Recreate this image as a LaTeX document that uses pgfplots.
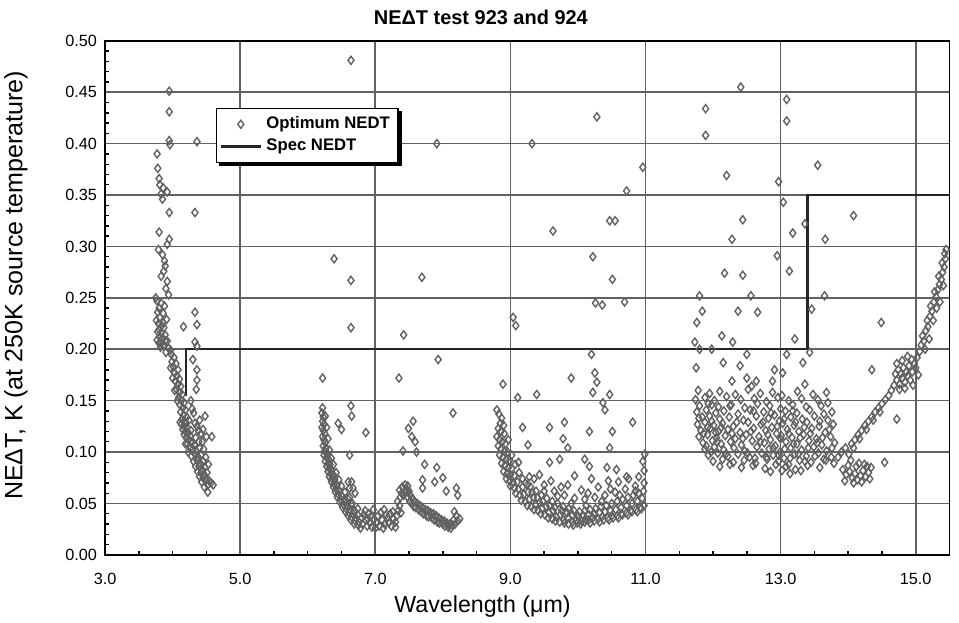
\documentclass[border=0pt]{standalone}
\usepackage{fontspec}
\setmainfont{Liberation Sans}
\usepackage{pgfplots}
\pgfplotsset{compat=1.18}
\usepackage{pgfplotstable}

% cluster 1: 3.7 - 4.6 um
\pgfplotstableread[row sep=\\]{
x y\\
3.95 0.451\\ 3.95 0.431\\ 3.95 0.403\\ 3.96 0.399\\ 4.36 0.402\\ 3.77 0.390\\ 3.78 0.376\\ 3.80 0.366\\
3.81 0.360\\ 3.86 0.357\\ 3.83 0.351\\ 3.85 0.346\\ 3.92 0.353\\ 3.95 0.333\\ 4.33 0.333\\ 3.80 0.314\\
3.95 0.307\\ 3.92 0.302\\ 3.79 0.297\\ 3.85 0.292\\ 3.88 0.286\\ 3.89 0.281\\ 3.87 0.276\\ 3.83 0.271\\
3.92 0.266\\ 3.90 0.259\\ 3.94 0.253\\ 3.75 0.250\\ 3.77 0.247\\ 3.83 0.245\\ 3.88 0.242\\ 3.80 0.240\\
3.78 0.236\\ 3.86 0.235\\ 3.81 0.231\\ 3.91 0.229\\ 3.76 0.228\\ 3.79 0.225\\ 3.84 0.223\\ 3.87 0.221\\
3.80 0.219\\ 3.78 0.217\\ 3.83 0.216\\ 3.89 0.214\\ 3.81 0.212\\ 3.85 0.211\\ 3.77 0.209\\ 3.92 0.208\\
3.80 0.206\\ 3.87 0.204\\ 3.82 0.202\\ 3.94 0.201\\ 3.90 0.197\\ 3.97 0.199\\ 4.33 0.236\\ 4.36 0.224\\
4.16 0.222\\ 4.33 0.207\\ 4.36 0.203\\ 4.30 0.190\\ 4.36 0.180\\ 4.35 0.161\\ 4.36 0.170\\
3.98 0.195\\ 4.02 0.192\\ 3.99 0.188\\ 4.05 0.186\\ 4.01 0.183\\ 4.08 0.180\\ 4.03 0.177\\ 4.06 0.174\\
4.10 0.171\\ 4.04 0.169\\ 4.08 0.166\\ 4.12 0.164\\ 4.06 0.161\\ 4.10 0.158\\ 4.14 0.156\\ 4.09 0.153\\
4.13 0.150\\ 4.17 0.148\\ 4.11 0.146\\ 4.15 0.143\\ 4.19 0.141\\ 4.27 0.150\\ 4.29 0.142\\ 4.31 0.138\\
4.12 0.139\\ 4.16 0.136\\ 4.21 0.134\\ 4.14 0.132\\ 4.18 0.130\\ 4.24 0.131\\ 4.13 0.127\\ 4.17 0.125\\
4.21 0.124\\ 4.15 0.122\\ 4.19 0.120\\ 4.23 0.119\\ 4.17 0.117\\ 4.26 0.116\\ 4.20 0.114\\ 4.24 0.112\\
4.33 0.128\\ 4.36 0.125\\ 4.40 0.131\\ 4.38 0.121\\ 4.42 0.118\\ 4.45 0.122\\ 4.48 0.135\\ 4.50 0.115\\
4.44 0.110\\ 4.28 0.109\\ 4.32 0.107\\ 4.30 0.103\\ 4.35 0.101\\ 4.40 0.104\\ 4.33 0.098\\ 4.38 0.095\\
4.42 0.097\\ 4.36 0.092\\ 4.41 0.089\\ 4.45 0.091\\ 4.39 0.086\\ 4.44 0.083\\ 4.48 0.085\\ 4.42 0.080\\
4.47 0.078\\ 4.51 0.080\\ 4.45 0.075\\ 4.50 0.073\\ 4.54 0.072\\ 4.52 0.068\\ 4.57 0.070\\ 4.58 0.115\\
4.52 0.061\\ 4.60 0.068\\ 4.22 0.108\\ 4.26 0.104\\
}\clA

% cluster 2: 6.2 - 8.3 um
\pgfplotstableread[row sep=\\]{
x y\\
6.22 0.143\\ 6.21 0.138\\ 6.23 0.134\\ 6.22 0.130\\ 6.24 0.127\\ 6.21 0.124\\ 6.23 0.121\\ 6.25 0.118\\
6.22 0.115\\ 6.24 0.112\\ 6.26 0.109\\ 6.23 0.106\\ 6.27 0.104\\ 6.25 0.101\\ 6.29 0.099\\ 6.24 0.097\\
6.28 0.095\\ 6.31 0.093\\ 6.26 0.091\\ 6.30 0.089\\ 6.33 0.088\\ 6.28 0.086\\ 6.32 0.084\\ 6.35 0.083\\
6.30 0.081\\ 6.34 0.079\\ 6.38 0.078\\ 6.32 0.076\\ 6.36 0.074\\ 6.40 0.073\\ 6.35 0.071\\ 6.39 0.069\\
6.43 0.068\\ 6.38 0.066\\ 6.42 0.064\\ 6.46 0.063\\ 6.41 0.061\\ 6.45 0.059\\ 6.50 0.058\\ 6.44 0.056\\
6.49 0.054\\ 6.54 0.053\\ 6.48 0.051\\ 6.53 0.049\\ 6.58 0.048\\ 6.52 0.046\\ 6.57 0.045\\ 6.62 0.044\\
6.56 0.042\\ 6.61 0.041\\ 6.67 0.040\\ 6.60 0.038\\ 6.65 0.037\\ 6.71 0.036\\ 6.64 0.034\\ 6.70 0.033\\
6.76 0.032\\ 6.69 0.030\\ 6.75 0.029\\ 6.81 0.030\\ 6.80 0.036\\ 6.86 0.034\\ 6.92 0.031\\ 6.88 0.028\\
6.95 0.027\\ 6.98 0.035\\ 7.02 0.031\\ 7.06 0.028\\ 7.04 0.038\\ 7.10 0.034\\ 7.14 0.030\\ 7.12 0.026\\
7.18 0.036\\ 7.20 0.031\\ 7.24 0.028\\ 7.27 0.035\\ 7.30 0.032\\ 7.22 0.040\\ 6.90 0.040\\ 6.85 0.043\\
6.74 0.045\\ 6.66 0.050\\ 6.62 0.056\\ 6.70 0.060\\ 6.62 0.065\\ 6.60 0.071\\
7.32 0.038\\ 7.34 0.043\\ 7.36 0.048\\ 7.33 0.052\\ 7.37 0.056\\ 7.39 0.060\\ 7.36 0.063\\ 7.40 0.066\\
7.44 0.068\\ 7.48 0.067\\ 7.46 0.063\\ 7.50 0.062\\ 7.42 0.058\\ 7.52 0.058\\ 7.55 0.055\\ 7.51 0.052\\
7.58 0.052\\ 7.62 0.050\\ 7.57 0.047\\ 7.66 0.048\\ 7.70 0.046\\ 7.64 0.044\\ 7.74 0.044\\ 7.78 0.043\\
7.71 0.040\\ 7.82 0.041\\ 7.86 0.040\\ 7.79 0.037\\ 7.90 0.038\\ 7.94 0.036\\ 7.87 0.034\\ 7.98 0.034\\
8.02 0.033\\ 7.95 0.031\\ 8.06 0.031\\ 8.10 0.030\\ 8.03 0.028\\ 8.14 0.029\\ 8.18 0.030\\ 8.12 0.026\\
8.22 0.033\\ 8.25 0.035\\ 8.20 0.038\\ 8.17 0.042\\
6.64 0.481\\ 6.39 0.288\\ 6.64 0.267\\ 6.64 0.221\\ 6.22 0.172\\ 6.64 0.145\\ 6.65 0.135\\ 6.45 0.128\\
6.50 0.122\\ 6.86 0.119\\ 6.62 0.097\\ 6.65 0.071\\ 6.67 0.065\\ 7.69 0.270\\ 7.42 0.214\\ 7.35 0.172\\
7.91 0.400\\ 7.93 0.190\\ 7.56 0.130\\ 7.49 0.123\\ 7.54 0.115\\ 7.59 0.110\\ 7.41 0.101\\ 7.61 0.100\\
7.73 0.088\\ 7.91 0.085\\ 8.00 0.075\\ 7.88 0.071\\ 7.70 0.073\\ 7.70 0.065\\ 8.20 0.065\\ 8.15 0.138\\
8.22 0.058\\ 8.05 0.062\\
}\clB

% cluster 3: 8.8 - 11 um
\pgfplotstableread[row sep=\\]{
x y\\
8.80 0.141\\ 8.83 0.137\\ 8.87 0.133\\ 8.85 0.128\\ 8.90 0.126\\ 8.82 0.123\\ 8.86 0.120\\ 8.91 0.118\\
8.80 0.115\\ 8.84 0.112\\ 8.88 0.110\\ 8.93 0.108\\ 8.82 0.106\\ 8.86 0.103\\ 8.91 0.101\\ 8.96 0.100\\
8.84 0.097\\ 8.89 0.095\\ 8.94 0.093\\ 8.99 0.092\\ 8.87 0.089\\ 8.92 0.087\\ 8.97 0.085\\ 9.02 0.084\\
8.90 0.081\\ 8.95 0.079\\ 9.00 0.078\\ 9.06 0.077\\ 8.94 0.074\\ 8.99 0.072\\ 9.04 0.070\\ 9.10 0.071\\
9.00 0.067\\ 9.06 0.065\\ 9.12 0.064\\ 9.18 0.066\\ 9.08 0.060\\ 9.14 0.058\\ 9.20 0.059\\ 9.26 0.061\\
9.16 0.053\\ 9.22 0.052\\ 9.28 0.054\\ 9.34 0.056\\ 9.25 0.048\\ 9.31 0.047\\ 9.37 0.049\\ 9.43 0.051\\
9.35 0.044\\ 9.41 0.043\\ 9.47 0.045\\ 9.53 0.047\\ 9.45 0.040\\ 9.51 0.039\\ 9.57 0.041\\ 9.63 0.043\\
9.56 0.036\\ 9.62 0.035\\ 9.68 0.037\\ 9.74 0.039\\ 9.67 0.033\\ 9.73 0.032\\ 9.79 0.034\\ 9.85 0.036\\
9.80 0.031\\ 9.86 0.030\\ 9.92 0.032\\ 9.98 0.034\\ 9.93 0.029\\ 9.99 0.031\\ 10.05 0.033\\ 10.11 0.035\\
10.04 0.030\\ 10.10 0.032\\ 10.16 0.034\\ 10.22 0.036\\ 10.18 0.031\\ 10.24 0.033\\ 10.30 0.035\\ 10.36 0.037\\
10.32 0.032\\ 10.38 0.034\\ 10.44 0.036\\ 10.50 0.038\\ 10.46 0.034\\ 10.52 0.036\\ 10.58 0.038\\ 10.64 0.040\\
10.60 0.036\\ 10.66 0.039\\ 10.72 0.041\\ 10.78 0.043\\ 10.74 0.039\\ 10.80 0.042\\ 10.86 0.044\\ 10.92 0.046\\
10.88 0.042\\ 10.94 0.045\\ 10.98 0.048\\
9.22 0.070\\ 9.30 0.066\\ 9.38 0.062\\ 9.46 0.058\\ 9.54 0.055\\ 9.62 0.052\\ 9.70 0.050\\ 9.78 0.047\\
9.86 0.045\\ 9.94 0.043\\ 10.02 0.042\\ 10.10 0.043\\ 10.18 0.044\\ 10.26 0.045\\ 10.34 0.047\\ 10.42 0.048\\
10.50 0.050\\ 10.58 0.052\\ 10.66 0.054\\ 10.74 0.056\\ 10.82 0.058\\ 10.90 0.060\\ 10.97 0.062\\
9.35 0.074\\ 9.50 0.068\\ 9.65 0.062\\ 9.80 0.058\\ 9.95 0.055\\ 10.10 0.054\\ 10.25 0.056\\ 10.40 0.058\\
10.55 0.061\\ 10.70 0.064\\ 10.85 0.067\\ 10.98 0.070\\ 9.60 0.072\\ 9.85 0.068\\ 10.05 0.063\\ 10.30 0.066\\
10.60 0.071\\ 10.90 0.076\\ 10.98 0.082\\ 10.20 0.074\\ 9.95 0.077\\ 10.45 0.072\\ 10.75 0.074\\
8.89 0.166\\ 9.11 0.153\\ 9.39 0.156\\ 10.22 0.158\\ 10.28 0.168\\ 10.47 0.156\\ 10.37 0.148\\ 10.40 0.141\\
9.18 0.124\\ 9.58 0.124\\ 9.80 0.129\\ 10.17 0.120\\ 10.51 0.120\\ 10.81 0.129\\ 9.78 0.113\\ 9.85 0.104\\
9.26 0.107\\ 10.47 0.104\\ 10.10 0.093\\ 10.17 0.086\\ 9.58 0.090\\ 9.73 0.093\\ 10.43 0.085\\ 10.57 0.083\\
10.96 0.091\\ 10.99 0.098\\ 9.43 0.078\\ 10.72 0.076\\ 9.04 0.231\\ 9.08 0.223\\ 9.32 0.400\\ 9.63 0.315\\
9.90 0.172\\ 10.20 0.195\\ 10.25 0.177\\ 10.22 0.290\\ 10.26 0.245\\ 10.36 0.243\\ 10.69 0.246\\ 10.51 0.268\\
10.47 0.325\\ 10.55 0.325\\ 10.72 0.354\\ 10.96 0.377\\ 10.28 0.426\\
}\clC

% cluster 4: 11.7 - 15.5 um
\pgfplotstableread[row sep=\\]{
x y\\
11.78 0.160\\ 11.95 0.157\\ 12.10 0.159\\ 12.33 0.156\\ 12.52 0.161\\ 12.70 0.157\\ 12.88 0.158\\ 13.02 0.155\\ 13.25 0.159\\ 13.48 0.156\\
11.74 0.151\\ 11.88 0.153\\ 12.02 0.150\\ 12.20 0.154\\ 12.41 0.151\\ 12.61 0.152\\ 12.79 0.149\\ 12.96 0.153\\ 13.12 0.150\\ 13.31 0.152\\ 13.55 0.151\\ 13.70 0.148\\
11.80 0.145\\ 11.93 0.147\\ 12.08 0.144\\ 12.27 0.146\\ 12.47 0.143\\ 12.66 0.147\\ 12.84 0.145\\ 13.00 0.142\\ 13.18 0.146\\ 13.38 0.144\\ 13.60 0.145\\
11.76 0.139\\ 11.90 0.141\\ 12.04 0.138\\ 12.16 0.140\\ 12.37 0.137\\ 12.55 0.141\\ 12.75 0.139\\ 12.91 0.136\\ 13.07 0.140\\ 13.24 0.138\\ 13.43 0.141\\ 13.64 0.137\\ 13.76 0.139\\
11.79 0.133\\ 11.95 0.135\\ 12.10 0.132\\ 12.24 0.134\\ 12.45 0.131\\ 12.64 0.135\\ 12.82 0.133\\ 12.98 0.130\\ 13.15 0.134\\ 13.32 0.132\\ 13.50 0.135\\ 13.70 0.131\\
11.77 0.127\\ 11.88 0.129\\ 12.01 0.126\\ 12.14 0.128\\ 12.30 0.125\\ 12.52 0.129\\ 12.71 0.127\\ 12.87 0.124\\ 13.03 0.128\\ 13.20 0.126\\ 13.39 0.129\\ 13.57 0.125\\ 13.78 0.127\\
11.82 0.121\\ 11.96 0.123\\ 12.08 0.120\\ 12.22 0.122\\ 12.40 0.119\\ 12.60 0.123\\ 12.78 0.121\\ 12.94 0.118\\ 13.10 0.122\\ 13.27 0.120\\ 13.46 0.123\\ 13.66 0.119\\
11.79 0.115\\ 11.92 0.117\\ 12.05 0.114\\ 12.18 0.116\\ 12.33 0.113\\ 12.49 0.117\\ 12.68 0.115\\ 12.85 0.112\\ 13.01 0.116\\ 13.17 0.114\\ 13.34 0.117\\ 13.53 0.113\\ 13.74 0.115\\
11.85 0.109\\ 11.99 0.111\\ 12.12 0.108\\ 12.26 0.110\\ 12.42 0.107\\ 12.58 0.111\\ 12.76 0.109\\ 12.92 0.106\\ 13.08 0.110\\ 13.24 0.108\\ 13.42 0.111\\ 13.61 0.107\\ 13.80 0.109\\
11.88 0.103\\ 12.02 0.105\\ 12.16 0.102\\ 12.31 0.104\\ 12.47 0.101\\ 12.65 0.105\\ 12.83 0.103\\ 12.99 0.100\\ 13.15 0.104\\ 13.31 0.102\\ 13.49 0.105\\ 13.68 0.101\\
11.93 0.097\\ 12.07 0.099\\ 12.22 0.096\\ 12.37 0.098\\ 12.54 0.095\\ 12.72 0.099\\ 12.89 0.097\\ 13.05 0.094\\ 13.21 0.098\\ 13.38 0.096\\ 13.56 0.099\\ 13.75 0.095\\
12.00 0.091\\ 12.14 0.093\\ 12.30 0.090\\ 12.46 0.092\\ 12.63 0.089\\ 12.80 0.093\\ 12.97 0.091\\ 13.12 0.088\\ 13.28 0.092\\ 13.45 0.090\\ 13.64 0.093\\ 13.79 0.089\\
12.10 0.086\\ 12.25 0.088\\ 12.42 0.085\\ 12.59 0.087\\ 12.77 0.084\\ 12.93 0.088\\ 13.08 0.086\\ 13.22 0.083\\ 13.40 0.087\\ 13.58 0.085\\
12.85 0.081\\ 13.02 0.082\\ 13.14 0.079\\ 13.30 0.082\\
12.41 0.455\\ 13.09 0.443\\ 13.09 0.422\\ 11.89 0.434\\ 11.89 0.408\\ 13.55 0.379\\ 12.20 0.369\\ 12.97 0.363\\
13.04 0.343\\ 14.08 0.330\\ 12.44 0.326\\ 13.36 0.322\\ 13.18 0.313\\ 13.66 0.307\\ 12.28 0.307\\ 12.95 0.291\\
13.13 0.276\\ 12.17 0.274\\ 12.44 0.272\\ 11.80 0.252\\ 12.56 0.252\\ 13.65 0.252\\ 11.84 0.237\\ 12.37 0.237\\
12.66 0.236\\ 11.76 0.226\\ 13.46 0.239\\ 14.49 0.226\\ 11.73 0.207\\ 12.13 0.213\\ 12.29 0.207\\ 13.21 0.210\\
11.80 0.200\\ 11.98 0.200\\ 12.50 0.195\\ 13.09 0.195\\ 13.43 0.197\\ 13.33 0.187\\ 12.15 0.187\\ 12.40 0.184\\
11.75 0.182\\ 14.35 0.180\\ 12.91 0.180\\ 13.03 0.177\\ 12.50 0.172\\ 12.64 0.169\\ 12.28 0.169\\ 12.88 0.169\\
13.36 0.166\\ 12.57 0.164\\ 13.68 0.158\\
13.92 0.083\\ 13.97 0.078\\ 14.02 0.081\\ 14.06 0.075\\ 14.10 0.079\\ 14.14 0.073\\ 14.18 0.077\\ 14.22 0.082\\
14.26 0.076\\ 14.30 0.080\\ 14.00 0.087\\ 14.12 0.086\\ 14.24 0.088\\ 14.34 0.085\\ 13.95 0.072\\ 14.08 0.070\\
13.85 0.095\\ 13.90 0.100\\ 13.96 0.104\\ 14.01 0.098\\ 14.05 0.108\\ 14.10 0.112\\ 14.08 0.104\\ 14.15 0.117\\
14.20 0.121\\ 14.17 0.113\\ 14.25 0.126\\ 14.30 0.130\\ 14.27 0.122\\ 14.35 0.134\\ 14.40 0.139\\ 14.37 0.131\\
14.45 0.143\\ 14.50 0.147\\ 14.47 0.139\\ 14.55 0.151\\ 14.60 0.155\\ 14.64 0.160\\ 14.72 0.132\\ 14.54 0.090\\
14.68 0.165\\ 14.72 0.170\\ 14.76 0.166\\ 14.80 0.172\\ 14.70 0.176\\ 14.74 0.180\\ 14.78 0.176\\ 14.84 0.168\\
14.88 0.174\\ 14.82 0.182\\ 14.86 0.178\\ 14.92 0.170\\ 14.90 0.184\\ 14.95 0.178\\ 14.98 0.186\\ 14.94 0.190\\
15.00 0.182\\ 15.02 0.192\\ 14.72 0.186\\ 14.80 0.189\\ 14.88 0.193\\ 14.76 0.161\\ 14.84 0.162\\ 14.96 0.165\\
15.04 0.175\\ 15.06 0.198\\ 15.08 0.204\\ 15.12 0.208\\ 15.10 0.213\\ 15.15 0.218\\ 15.18 0.222\\ 15.17 0.228\\
15.21 0.232\\ 15.24 0.237\\ 15.22 0.242\\ 15.27 0.246\\ 15.30 0.251\\ 15.28 0.256\\ 15.33 0.258\\ 15.35 0.263\\
15.38 0.268\\ 15.34 0.271\\ 15.40 0.275\\ 15.42 0.280\\ 15.39 0.284\\ 15.44 0.288\\ 15.43 0.293\\ 15.45 0.297\\
15.41 0.262\\ 15.36 0.246\\ 15.31 0.240\\ 15.26 0.228\\ 15.14 0.200\\ 15.20 0.210\\
}\clD

% extra points in the dense parts of all four bands
\pgfplotstableread[row sep=\\]{
x y\\
4.07 0.150\\ 4.11 0.129\\ 4.19 0.108\\ 4.23 0.100\\ 4.28 0.096\\ 4.31 0.091\\ 4.34 0.086\\ 4.37 0.081\\
4.40 0.076\\ 4.43 0.071\\ 4.47 0.066\\ 4.20 0.128\\ 4.27 0.121\\ 4.34 0.114\\ 4.39 0.110\\ 4.46 0.103\\
4.49 0.095\\ 4.53 0.088\\ 4.03 0.160\\ 4.00 0.172\\ 3.97 0.182\\ 3.86 0.226\\ 3.83 0.206\\ 3.89 0.208\\
6.26 0.135\\ 6.28 0.124\\ 6.30 0.113\\ 6.32 0.102\\ 6.35 0.094\\ 6.38 0.088\\ 6.42 0.080\\ 6.46 0.073\\
6.50 0.067\\ 6.55 0.061\\ 6.59 0.055\\ 6.64 0.049\\ 6.69 0.043\\ 6.74 0.039\\ 6.78 0.026\\ 6.83 0.039\\
6.89 0.035\\ 6.94 0.038\\ 7.00 0.026\\ 7.08 0.041\\ 7.16 0.039\\ 7.26 0.042\\ 7.30 0.027\\ 6.97 0.044\\
7.13 0.044\\ 7.44 0.061\\ 7.48 0.056\\ 7.54 0.050\\ 7.60 0.046\\ 7.68 0.042\\ 7.76 0.038\\ 7.84 0.036\\
7.92 0.032\\ 8.00 0.030\\ 8.08 0.027\\ 8.16 0.034\\ 7.38 0.041\\
8.97 0.112\\ 9.02 0.097\\ 9.07 0.088\\ 9.13 0.080\\ 9.18 0.074\\ 9.25 0.068\\ 9.32 0.061\\ 9.40 0.056\\
9.48 0.052\\ 9.58 0.048\\ 9.66 0.046\\ 9.76 0.043\\ 9.84 0.041\\ 9.92 0.039\\ 10.00 0.038\\ 10.08 0.038\\
10.16 0.039\\ 10.24 0.040\\ 10.32 0.041\\ 10.40 0.042\\ 10.48 0.043\\ 10.56 0.044\\ 10.64 0.046\\ 10.72 0.048\\
10.80 0.050\\ 10.88 0.052\\ 10.95 0.055\\ 9.70 0.057\\ 9.90 0.050\\ 10.12 0.048\\ 10.35 0.052\\ 10.62 0.058\\
10.85 0.062\\ 10.48 0.064\\ 10.15 0.060\\ 9.75 0.066\\ 9.50 0.062\\ 9.28 0.076\\ 9.12 0.090\\
11.84 0.134\\ 11.86 0.118\\ 11.92 0.124\\ 11.98 0.130\\ 12.04 0.119\\ 11.90 0.106\\ 11.97 0.100\\ 12.06 0.110\\
12.12 0.124\\ 12.19 0.098\\ 12.28 0.118\\ 12.35 0.129\\ 12.44 0.113\\ 12.51 0.099\\ 12.56 0.120\\ 12.62 0.094\\
12.70 0.110\\ 12.74 0.129\\ 12.79 0.095\\ 12.81 0.117\\ 12.86 0.138\\ 12.89 0.104\\ 12.95 0.125\\ 12.97 0.097\\
13.00 0.113\\ 13.05 0.132\\ 13.06 0.103\\ 13.12 0.118\\ 13.14 0.094\\ 13.19 0.108\\ 13.22 0.129\\ 13.26 0.098\\
13.29 0.114\\ 13.35 0.124\\ 13.36 0.091\\ 13.41 0.104\\ 13.44 0.118\\ 13.51 0.096\\ 13.54 0.109\\ 13.58 0.130\\
13.62 0.114\\ 13.67 0.092\\ 13.72 0.122\\ 13.76 0.104\\ 13.18 0.140\\ 12.60 0.140\\ 12.25 0.145\\ 11.98 0.146\\
14.04 0.092\\ 14.16 0.089\\ 14.28 0.086\\ 14.20 0.071\\ 14.32 0.074\\
}\clE

\pgfplotsset{nedt/.style={only marks, mark=diamond, mark size=1.75pt,
  mark options={draw=black!62, line width=0.6pt, fill=none}}}

\begin{document}
\begin{tikzpicture}
\path[use as bounding box] (-45.3pt,-29.3pt) rectangle (368.1pt,239.2pt);
\begin{axis}[
 scale only axis, width=364pt, height=221.6pt,
 xmin=3, xmax=15.5, ymin=0, ymax=0.5,
 xtick={3,5,7,9,11,13,15},
 ytick={0,0.05,0.1,0.15,0.2,0.25,0.3,0.35,0.4,0.45,0.5},
 minor x tick num=3, minor y tick num=4,
 tick pos=left, major tick length=0pt, minor tick length=1.7pt,
 tick style={black, line width=0.6pt},
 xmajorgrids, ymajorgrids,
 grid style={black!62, line width=0.7pt},
 axis line style={black, line width=0.8pt},
 /pgf/number format/assume math mode=true,
 ticklabel style={font=\fontsize{7}{8}\selectfont},
 xticklabel style={/pgf/number format/.cd, fixed, fixed zerofill, precision=1, /tikz/.cd, yshift=-4.5pt},
 yticklabel style={/pgf/number format/.cd, fixed, fixed zerofill, precision=2},
 scaled y ticks=false,
 title={NEΔT test 923 and 924},
 title style={font=\bfseries\fontsize{8.6}{10}\selectfont, at={(0.445,1.004)}, anchor=base},
 xlabel={Wavelength (μm)},
 xlabel style={font=\fontsize{10}{12}\selectfont, at={(0.447,-0.1126)}, anchor=base},
 ylabel={NEΔT, K (at 250K source temperature)},
 ylabel style={font=\fontsize{10.8}{12}\selectfont, at={(-0.098,0.524)}, anchor=base},
 legend style={name=lg, at={(0.131,0.870)}, anchor=north west, draw=black, line width=0.6pt,
   fill=white, font=\bfseries\fontsize{7.2}{9}\selectfont, inner sep=1.5pt, row sep=-1pt},
 legend cell align=left,
]
\addplot[nedt] table {\clA};
\addlegendentry{Optimum NEDT}
\addplot[black!85, line width=1pt] coordinates {(4.2,0.155) (4.2,0.2) (13.4,0.2) (13.4,0.35) (15.5,0.35)};
\addlegendentry{Spec NEDT}
\addplot[nedt, forget plot] table {\clB};
\addplot[nedt, forget plot] table {\clC};
\addplot[nedt, forget plot] table {\clD};
\addplot[nedt, forget plot] table {\clE};
\end{axis}
% drop shadow of the legend box
\fill[black] ([xshift=1.4pt]lg.south west) rectangle ([xshift=1.4pt,yshift=-1.4pt]lg.south east);
\fill[black] ([yshift=-1.4pt]lg.north east) rectangle ([xshift=1.4pt]lg.south east);
\end{tikzpicture}
\end{document}
